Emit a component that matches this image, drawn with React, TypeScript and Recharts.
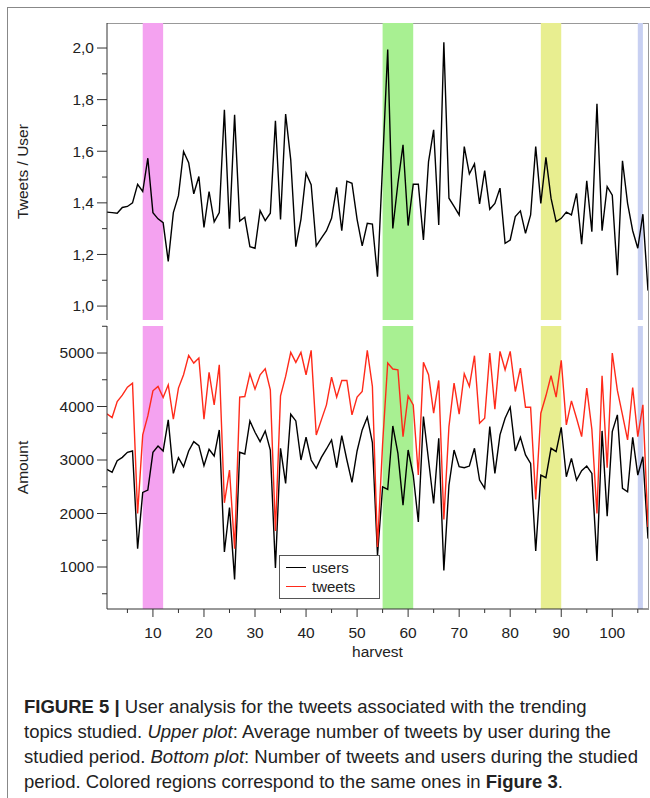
import React from "react";
import {
  Legend,
  Line,
  LineChart,
  ReferenceArea,
  XAxis,
  YAxis,
} from "recharts";

// harvest index is implicit: value i belongs to harvest i + 1
const tweetsPerUser = [
  1.364, 1.362, 1.36, 1.382, 1.386, 1.4, 1.472, 1.444, 1.573, 1.362,
  1.338, 1.323, 1.173, 1.362, 1.428, 1.599, 1.556, 1.435, 1.502, 1.305,
  1.444, 1.326, 1.362, 1.761, 1.3, 1.741, 1.329, 1.344, 1.23, 1.224,
  1.37, 1.331, 1.36, 1.718, 1.336, 1.744, 1.567, 1.23, 1.336, 1.515,
  1.47, 1.233, 1.263, 1.292, 1.34, 1.46, 1.292, 1.484, 1.476, 1.336,
  1.233, 1.321, 1.318, 1.114, 1.55, 1.994, 1.301, 1.476, 1.625, 1.312,
  1.472, 1.472, 1.256, 1.56, 1.683, 1.314, 2.022, 1.418, 1.386, 1.353,
  1.618, 1.512, 1.551, 1.396, 1.525, 1.375, 1.398, 1.457, 1.243, 1.256,
  1.347, 1.369, 1.282, 1.353, 1.618, 1.398, 1.576, 1.418, 1.327, 1.34,
  1.364, 1.353, 1.437, 1.24, 1.485, 1.288, 1.784, 1.292, 1.463, 1.43,
  1.12, 1.563, 1.398, 1.292, 1.224, 1.356, 1.06,
];

const users = [
  2825, 2769, 2987, 3050, 3144, 3169, 1344, 2394, 2437, 3144,
  3262, 3169, 3750, 2750, 3044, 2875, 3169, 3344, 3269, 2894,
  3200, 3075, 3562, 1281, 2112, 769, 3144, 3112, 3731, 3519,
  3344, 3544, 3187, 981, 3219, 2562, 3856, 3731, 3000, 3425,
  3000, 2844, 3050, 3206, 3375, 2856, 3456, 3000, 2581, 3169,
  3562, 3800, 3325, 1219, 2500, 2450, 3637, 3125, 2156, 3187,
  2719, 1844, 3812, 3000, 2187, 3406, 937, 2531, 3187, 2875,
  2856, 2887, 3219, 2625, 2469, 3625, 2750, 3469, 3781, 3987,
  3169, 3425, 3094, 2937, 1300, 2719, 2669, 3219, 3156, 3612,
  2687, 3031, 2625, 2800, 2887, 2750, 1112, 3544, 1950, 3531,
  3844, 2469, 2406, 3425, 2719, 3062, 1531,
];

const tweets = [
  3862, 3794, 4094, 4212, 4362, 4437, 2000, 3469, 3825, 4294,
  4375, 4169, 4406, 3762, 4344, 4594, 4956, 4812, 4906, 3762,
  4637, 4031, 4781, 2200, 2812, 1344, 4175, 4187, 4612, 4325,
  4594, 4706, 4312, 1675, 4200, 4562, 5012, 4825, 5012, 4594,
  5050, 3469, 3750, 4031, 4550, 4175, 4487, 4487, 3844, 4175,
  4281, 5050, 4375, 1375, 3300, 4812, 4700, 4687, 3437, 4200,
  4031, 2719, 4825, 4594, 3875, 4487, 1887, 3625, 4437, 3856,
  4612, 4375, 4950, 3687, 3781, 5000, 3950, 5031, 4687, 5031,
  4281, 4719, 3987, 3987, 2262, 3875, 4200, 4575, 4175, 4862,
  3656, 4106, 3781, 3437, 4344, 3575, 2000, 4575, 2856, 5000,
  4300, 3844, 3375, 4356, 3437, 4031, 1750,
];

// highlighted harvest ranges [from, to, colour]
const bands: [number, number, string][] = [
  [8, 12, "#f4a2f0"],
  [55, 61, "#a8f092"],
  [86, 90, "#e8ee90"],
  [105, 106, "#c8d0f2"],
];

const xTicks = [5, 10, 15, 20, 25, 30, 35, 40, 45, 50, 55, 60, 65, 70, 75, 80, 85, 90, 95, 100, 105];
const ratioTicks = [1.0, 1.1, 1.2, 1.3, 1.4, 1.5, 1.6, 1.7, 1.8, 1.9, 2.0];
const amountTicks = [500, 1000, 1500, 2000, 2500, 3000, 3500, 4000, 4500, 5000, 5500];

const data = tweetsPerUser.map((r, i) => ({
  harvest: i + 1,
  ratio: r,
  users: users[i],
  tweets: tweets[i],
}));

const FONT = "'Liberation Sans', Arial, Helvetica, sans-serif";
const INK = "#222";

function YTick(props: any) {
  const { x, y, payload, major, fmt } = props;
  const isMajor = major(payload.value);
  return (
    <g>
      <line x1={x - (isMajor ? 10 : 5)} x2={x} y1={y} y2={y} stroke="#333" strokeWidth={1} />
      {isMajor && (
        <text x={x - 13} y={y} dy="0.35em" textAnchor="end" fontSize={15.5} fill={INK} fontFamily={FONT}>
          {fmt(payload.value)}
        </text>
      )}
    </g>
  );
}

function XTick(props: any) {
  const { x, y, payload } = props;
  const isMajor = payload.value % 10 === 0;
  return (
    <g>
      <line x1={x} x2={x} y1={y} y2={y + (isMajor ? 8 : 4)} stroke="#333" strokeWidth={1} />
      {isMajor && (
        <text x={x} y={y + 29} textAnchor="middle" fontSize={15.5} fill={INK} fontFamily={FONT}>
          {payload.value}
        </text>
      )}
    </g>
  );
}

function LegendBox() {
  const row = (color: string, label: string) => (
    <div style={{ display: "flex", alignItems: "center", height: 19 }}>
      <span style={{ display: "inline-block", width: 20, height: 0, borderTop: `1.5px solid ${color}`, marginRight: 6 }} />
      <span style={{ fontSize: 15, color: INK, fontFamily: FONT }}>{label}</span>
    </div>
  );
  return (
    <div
      style={{
        border: "1px solid #555",
        background: "#fff",
        padding: "2px 6px",
        width: 87,
        boxSizing: "content-box",
      }}
    >
      {row("#000", "users")}
      {row("#ff2a1a", "tweets")}
    </div>
  );
}

export default function App() {
  return (
    <div style={{ position: "absolute", left: 0, top: 0, width: 650, height: 798, background: "#fff", fontFamily: FONT }}>
      {/* figure frame */}
      <div style={{ position: "absolute", left: 7, top: 7, width: 650, height: 800, borderLeft: "1px solid #888", borderTop: "1px solid #888" }} />
      {/* plot frame top / right */}
      <div style={{ position: "absolute", left: 107, top: 23, width: 541, height: 586, borderTop: "1px solid #999", borderRight: "1px solid #999" }} />

      <div style={{ position: "absolute", left: 0, top: 0 }}>
        <LineChart width={650} height={330} data={data} margin={{ top: 23, right: 2, left: 0, bottom: 10 }}>
          {bands.map(([a, b, c]) => (
            <ReferenceArea key={a} x1={a} x2={b} fill={c} fillOpacity={1} stroke="none" ifOverflow="hidden" />
          ))}
          <XAxis dataKey="harvest" type="number" domain={[1, 107]} hide allowDataOverflow />
          <YAxis
            width={107}
            domain={[0.946, 2.097]}
            allowDataOverflow
            ticks={ratioTicks}
            interval={0}
            tickSize={0}
            tickMargin={0}
            axisLine={{ stroke: "#333" }}
            tick={(p: any) => (
              <YTick
                {...p}
                major={(v: number) => Math.round(v * 10) % 2 === 0}
                fmt={(v: number) => v.toFixed(1).replace(".", ",")}
              />
            )}
            label={{
              value: "Tweets / User",
              angle: -90,
              position: "insideLeft",
              offset: 22,
              style: { fontSize: 15.5, fill: INK, fontFamily: FONT, textAnchor: "middle" },
            }}
          />
          <Line type="linear" dataKey="ratio" stroke="#000" strokeWidth={1.4} dot={false} isAnimationActive={false} />
        </LineChart>
      </div>

      <div style={{ position: "absolute", left: 0, top: 300 }}>
        <LineChart width={650} height={370} data={data} margin={{ top: 26, right: 2, left: 0, bottom: 11 }}>
          {bands.map(([a, b, c]) => (
            <ReferenceArea key={a} x1={a} x2={b} fill={c} fillOpacity={1} stroke="none" ifOverflow="hidden" />
          ))}
          <XAxis
            dataKey="harvest"
            type="number"
            domain={[1, 107]}
            allowDataOverflow
            ticks={xTicks}
            interval={0}
            height={50}
            tickSize={0}
            tickMargin={0}
            axisLine={{ stroke: "#333" }}
            tick={(p: any) => <XTick {...p} />}
            label={{
              value: "harvest",
              position: "insideBottom",
              offset: 2,
              style: { fontSize: 15.5, fill: INK, fontFamily: FONT },
            }}
          />
          <YAxis
            width={107}
            domain={[215, 5505]}
            allowDataOverflow
            ticks={amountTicks}
            interval={0}
            tickSize={0}
            tickMargin={0}
            axisLine={{ stroke: "#333" }}
            tick={(p: any) => (
              <YTick {...p} major={(v: number) => v % 1000 === 0} fmt={(v: number) => String(v)} />
            )}
            label={{
              value: "Amount",
              angle: -90,
              position: "insideLeft",
              offset: 22,
              style: { fontSize: 15.5, fill: INK, fontFamily: FONT, textAnchor: "middle" },
            }}
          />
          <Line type="linear" dataKey="users" name="users" stroke="#000" strokeWidth={1.4} dot={false} isAnimationActive={false} />
          <Line type="linear" dataKey="tweets" name="tweets" stroke="#ff2a1a" strokeWidth={1.4} dot={false} isAnimationActive={false} />
          <Legend
            layout="horizontal"
            verticalAlign="middle"
            align="center"
            content={() => <LegendBox />}
            wrapperStyle={{ left: 279, top: 255, width: 101, height: 43 }}
          />
        </LineChart>
      </div>

      <div
        style={{
          position: "absolute",
          left: 24,
          top: 694,
          width: 626,
          fontSize: 18.5,
          lineHeight: "25px",
          color: INK,
          fontFamily: FONT,
          whiteSpace: "nowrap",
        }}
      >
        <b>FIGURE 5 |</b> User analysis for the tweets associated with the trending
        <br />
        topics studied. <i>Upper plot</i>: Average number of tweets by user during the
        <br />
        studied period. <i>Bottom plot</i>: Number of tweets and users during the studied
        <br />
        period. Colored regions correspond to the same ones in <b>Figure 3</b>.
      </div>
    </div>
  );
}
